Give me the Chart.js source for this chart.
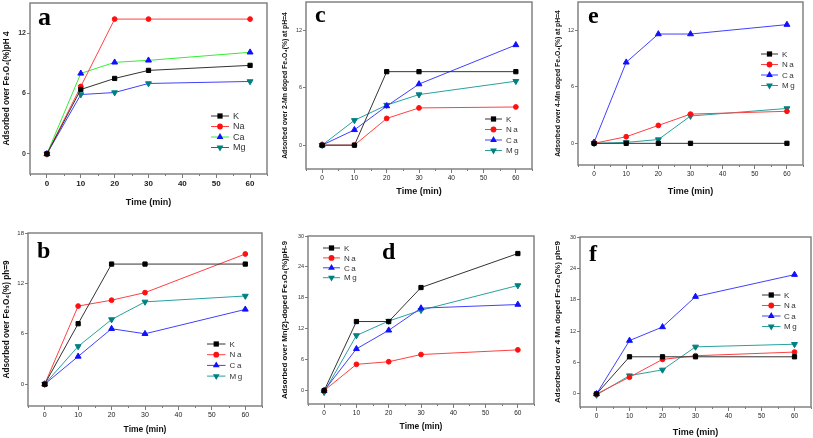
<!DOCTYPE html>
<html>
<head>
<meta charset="utf-8">
<script src="https://cdn.jsdelivr.net/npm/chart.js@4"></script>
<style>
  body { margin: 0; width: 813px; height: 438px; position: relative; overflow: hidden; background: #fff; }
  canvas { position: absolute; }
</style>
</head>
<body>
<canvas id="a"></canvas>
<canvas id="c"></canvas>
<canvas id="e"></canvas>
<canvas id="b"></canvas>
<canvas id="d"></canvas>
<canvas id="f"></canvas>
<script>
// sampling times (min) and ions
const times = [0, 10, 20, 30, 60];
const ions = ["K", "Na", "Ca", "Mg"];
const xTicks = [0, 10, 20, 30, 40, 50, 60];
const yTicks15 = [0, 6, 12];
const yTicks18 = [0, 6, 12, 18];
const yTicks30 = [0, 6, 12, 18, 24, 30];

// a: Fe3O4, pH 4
const aK = [0, 6.4, 7.5, 8.3, 8.8];
const aNa = [0, 6.7, 13.4, 13.4, 13.4];
const aCa = [0, 8.0, 9.1, 9.3, 10.1];
const aMg = [0, 5.9, 6.1, 7.0, 7.2];
// c: 2-Mn doped Fe3O4, pH 4
const cK = [0, 0, 7.7, 7.7, 7.7];
const cNa = [0, 0, 2.8, 3.9, 4.0];
const cCa = [0, 1.6, 4.1, 6.4, 10.5];
const cMg = [0, 2.6, 4.2, 5.3, 6.7];
// e: 4-Mn doped Fe3O4, pH 4
const eK = [0, 0, 0, 0, 0];
const eNa = [0, 0.7, 1.9, 3.1, 3.4];
const eCa = [0.1, 8.6, 11.6, 11.6, 12.6];
const eMg = [0, 0.1, 0.4, 2.9, 3.7];
// b: Fe3O4, pH 9
const bK = [0, 7.2, 14.3, 14.3, 14.3];
const bNa = [0, 9.3, 10.0, 10.9, 15.5];
const bCa = [0, 3.3, 6.6, 6.0, 8.9];
const bMg = [0, 4.5, 7.7, 9.8, 10.5];
// d: Mn(2)-doped Fe3O4, pH 9
const dK = [0, 13.4, 13.4, 20.0, 26.6];
const dNa = [0, 5.1, 5.6, 7.0, 7.9];
const dCa = [0, 8.1, 11.7, 16.0, 16.7];
const dMg = [-0.3, 10.7, 13.5, 15.6, 20.4];
// f: 4 Mn doped Fe3O4, pH 9
const fK = [0, 7.1, 7.1, 7.1, 7.1];
const fNa = [0, 3.2, 6.6, 7.3, 8.0];
const fCa = [0, 10.2, 12.8, 18.6, 22.8];
const fMg = [-0.2, 3.5, 4.6, 9.0, 9.5];

Chart.defaults.font.family = "'Liberation Sans', Arial, sans-serif";
Chart.defaults.animation = false;

const frameColor = "#7a7a7a";
const markers = [
  { style: "rect", rot: 0, r: 3.0, color: "#000000" },
  { style: "circle", rot: 0, r: 2.4, color: "#ff1010" },
  { style: "triangle", rot: 0, r: 3.4, color: "#1010ff" },
  { style: "triangle", rot: 180, r: 3.4, color: "#008080" },
];
const stdLines = ["#333333", "#ff4040", "#4040ff", "#2aa0a0"];
const aLines = ["#333333", "#ff4040", "#33ee33", "#4040ff"];
const aPoints = ["#000000", "#ff1010", "#1010ff", "#008080"];

const panels = [
  { id: "a", series: [aK, aNa, aCa, aMg], lines: aLines, yMin: -2, yMax: 15, yTicks: yTicks15,
    box: [30, 3, 267, 174], yTitle: "Adsorbed over Fe₃O₄(%)pH 4", yTitleX: 7, yTitleSize: 8.2,
    xTitleY: 203, xTitleSize: 9, tickSize: 8, tickWeight: "bold",
    legend: { x: 211, y: 116, gap: 10.5, len: 18, tx: 22, size: 9, spacing: 0 },
    letter: { x: 38, y: 25, size: 26 } },
  { id: "c", series: [cK, cNa, cCa, cMg], lines: stdLines, yMin: -2.5, yMax: 15, yTicks: yTicks15,
    box: [306, 2, 532, 169], yTitle: "Adsorbed over 2-Mn doped Fe₃O₄(%) at pH=4", yTitleX: 285, yTitleSize: 6.8,
    xTitleY: 192, xTitleSize: 9, tickSize: 6.5, tickWeight: "normal",
    legend: { x: 485, y: 119, gap: 10.5, len: 17, tx: 21, size: 8, spacing: 1.5 },
    letter: { x: 315, y: 22, size: 24 } },
  { id: "e", series: [eK, eNa, eCa, eMg], lines: stdLines, yMin: -2.3, yMax: 15, yTicks: yTicks15,
    box: [578, 2, 803, 165], yTitle: "Adsorbed over 4-Mn doped Fe₃O₄(%) at pH=4", yTitleX: 558, yTitleSize: 6.8,
    xTitleY: 192, xTitleSize: 9, tickSize: 6.5, tickWeight: "normal",
    legend: { x: 761, y: 54, gap: 10.5, len: 17, tx: 21, size: 8, spacing: 1.5 },
    letter: { x: 588, y: 23, size: 24 } },
  { id: "b", series: [bK, bNa, bCa, bMg], lines: stdLines, yMin: -2.6, yMax: 18, yTicks: yTicks18,
    box: [28, 233, 262, 406], yTitle: "Adsorbed over Fe₃O₄(%) ph=9", yTitleX: 7, yTitleSize: 8.2,
    xTitleY: 430, xTitleSize: 8.5, tickSize: 7, tickWeight: "normal",
    legend: { x: 207, y: 344, gap: 10.7, len: 18.5, tx: 22.6, size: 8, spacing: 1.5 },
    letter: { x: 37, y: 258, size: 24 } },
  { id: "d", series: [dK, dNa, dCa, dMg], lines: stdLines, yMin: -2.6, yMax: 30, yTicks: yTicks30,
    box: [308, 236, 534, 404], yTitle: "Adsorbed over Mn(2)-doped Fe₃O₄(%)pH-9", yTitleX: 285, yTitleSize: 7.8,
    xTitleY: 427, xTitleSize: 8.5, tickSize: 6.5, tickWeight: "normal",
    legend: { x: 323, y: 248, gap: 9.9, len: 17, tx: 21, size: 8, spacing: 1.5 },
    letter: { x: 382, y: 259, size: 24 } },
  { id: "f", series: [fK, fNa, fCa, fMg], lines: stdLines, yMin: -2.5, yMax: 30, yTicks: yTicks30,
    box: [580, 237, 811, 407], yTitle: "Adsorbed over 4 Mn doped Fe₃O₄(%) ph=9", yTitleX: 558, yTitleSize: 8,
    xTitleY: 433, xTitleSize: 9, tickSize: 6.5, tickWeight: "normal",
    legend: { x: 762, y: 295, gap: 10.5, len: 18.5, tx: 22, size: 8, spacing: 1.5 },
    letter: { x: 589, y: 261, size: 24 } },
];

function drawMarker(ctx, m, x, y, color) {
  ctx.fillStyle = color;
  ctx.beginPath();
  if (m.style === "rect") {
    const s = m.r * Math.SQRT1_2 + 0.5;
    ctx.rect(x - s, y - s, 2 * s, 2 * s);
  } else if (m.style === "circle") {
    ctx.arc(x, y, m.r + 0.5, 0, Math.PI * 2);
  } else {
    const d = m.rot ? -1 : 1;
    const r = m.r + 0.5;
    ctx.moveTo(x, y - d * r);
    ctx.lineTo(x + r * 0.87, y + d * r * 0.5);
    ctx.lineTo(x - r * 0.87, y + d * r * 0.5);
    ctx.closePath();
  }
  ctx.fill();
}

function makeChart(p) {
  const [L, T, R, B] = p.box;
  const padTop = 12, padRight = 8;
  const left = Math.round(p.yTitleX - (p.yTitleSize * 1.2) / 2 - 1);
  const top = T - padTop;
  const width = Math.round(R + padRight - left);
  const bottom = Math.round(p.xTitleY + (p.xTitleSize * 1.2) / 2 + 1);
  const height = bottom - top;
  const yW = L - left;
  const xH = bottom - B;

  const canvas = document.getElementById(p.id);
  canvas.style.left = left + "px";
  canvas.style.top = top + "px";
  canvas.width = width;
  canvas.height = height;

  const datasets = p.series.map((vals, i) => {
    const m = markers[i];
    const pc = p.id === "a" ? aPoints[i] : m.color;
    return {
      label: ions[i],
      data: times.map((t, k) => ({ x: t, y: vals[k] })),
      borderColor: p.lines[i],
      borderWidth: 1,
      pointStyle: m.style,
      pointRotation: m.rot,
      pointRadius: m.r,
      pointBackgroundColor: pc,
      pointBorderColor: pc,
      pointBorderWidth: 1,
      tension: 0,
    };
  });

  const decor = {
    id: "decor_" + p.id,
    afterDraw(chart) {
      const ctx = chart.ctx;
      const a = chart.chartArea;
      ctx.save();
      // frame
      ctx.strokeStyle = frameColor;
      ctx.lineWidth = 1.4;
      ctx.strokeRect(a.left, a.top, a.right - a.left, a.bottom - a.top);
      // minor x ticks
      const xs = chart.scales.x;
      ctx.lineWidth = 1;
      ctx.beginPath();
      for (let v = -5; v <= 65; v += 10) {
        const px = Math.round(xs.getPixelForValue(v)) + 0.5;
        ctx.moveTo(px, a.bottom);
        ctx.lineTo(px, a.bottom + 2);
      }
      ctx.stroke();
      // legend
      const lg = p.legend;
      ctx.font = lg.size + "px 'Liberation Sans', Arial, sans-serif";
      ctx.letterSpacing = lg.spacing + "px";
      ctx.textBaseline = "middle";
      datasets.forEach((ds, i) => {
        const x0 = lg.x - left, y0 = lg.y - top + i * lg.gap;
        ctx.strokeStyle = ds.borderColor;
        ctx.lineWidth = 1;
        ctx.beginPath();
        ctx.moveTo(x0, y0);
        ctx.lineTo(x0 + lg.len, y0);
        ctx.stroke();
        drawMarker(ctx, markers[i], x0 + lg.len / 2, y0, ds.pointBackgroundColor);
        ctx.fillStyle = "#333";
        ctx.fillText(ds.label, x0 + lg.tx, y0 + 0.5);
      });
      ctx.letterSpacing = "0px";
      // panel letter
      ctx.font = "bold " + p.letter.size + "px 'Liberation Serif', 'Times New Roman', serif";
      ctx.fillStyle = "#000";
      ctx.textBaseline = "alphabetic";
      ctx.fillText(p.id, p.letter.x - left, p.letter.y - top);
      ctx.restore();
    },
  };

  new Chart(canvas, {
    type: "line",
    data: { datasets },
    options: {
      responsive: false,
      layout: { padding: { top: padTop, right: padRight, left: 0, bottom: 0 } },
      plugins: { legend: { display: false }, tooltip: { enabled: false } },
      scales: {
        x: {
          type: "linear",
          min: -5,
          max: 65,
          afterBuildTicks: (s) => { s.ticks = xTicks.map((v) => ({ value: v })); },
          afterFit: (s) => { s.height = xH; },
          grid: { drawOnChartArea: false, tickLength: 4, color: frameColor },
          border: { display: false },
          ticks: { font: { size: p.tickSize, weight: p.tickWeight }, color: "#222", padding: 1, maxRotation: 0, autoSkip: false },
          title: { display: true, text: "Time (min)", color: "#111",
            font: { size: p.xTitleSize, weight: "bold" }, padding: { top: 0, bottom: 1 } },
        },
        y: {
          min: p.yMin,
          max: p.yMax,
          afterBuildTicks: (s) => { s.ticks = p.yTicks.map((v) => ({ value: v })); },
          afterFit: (s) => { s.width = yW; },
          grid: { drawOnChartArea: false, tickLength: 3, color: frameColor },
          border: { display: false },
          ticks: { font: { size: p.tickSize - 1, weight: p.tickWeight }, color: "#333", padding: 1 },
          title: { display: true, text: p.yTitle, color: "#111",
            font: { size: p.yTitleSize, weight: "bold" }, padding: { top: 1, bottom: 0 } },
        },
      },
    },
    plugins: [decor],
  });
}

panels.forEach(makeChart);
</script>
</body>
</html>
